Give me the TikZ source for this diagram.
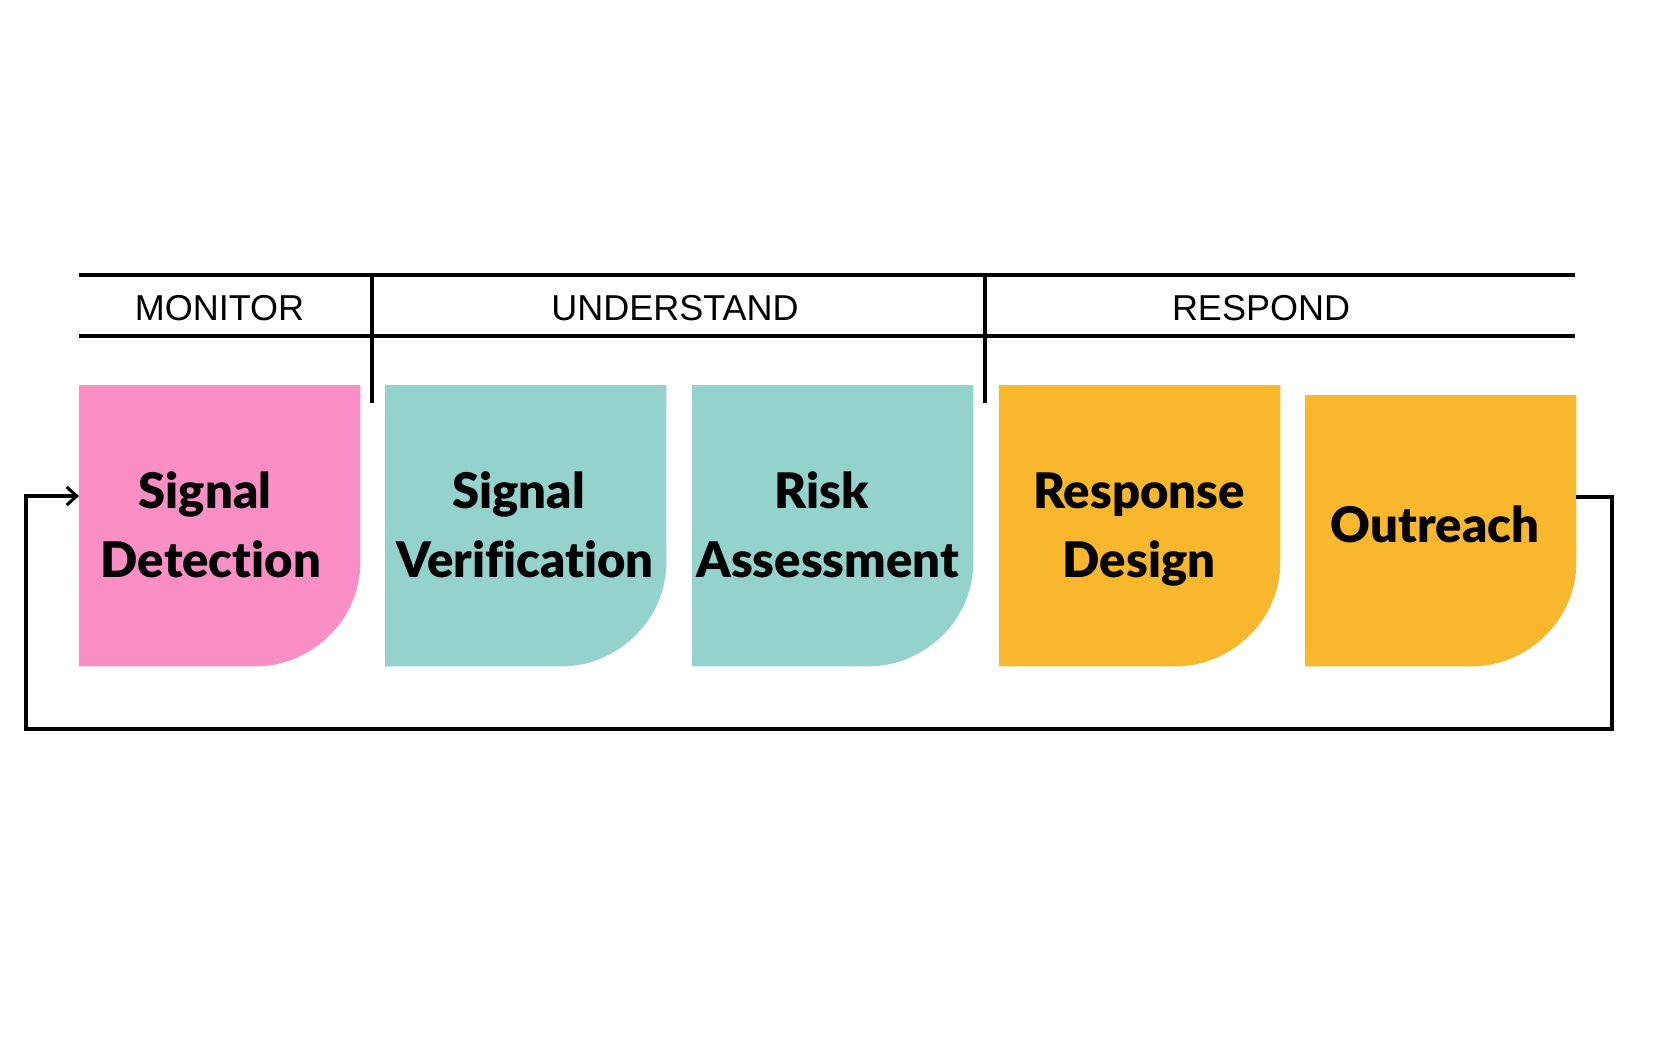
\documentclass[tikz,border=0pt]{standalone}
\usepackage{fontspec}
\setmainfont{Liberation Sans}
\newfontfamily\boxfont{Lato}[BoldFont={Lato Black},Ligatures=NoCommon]
\usetikzlibrary{arrows.meta,calc}
\definecolor{pinkc}{HTML}{F98FC4}
\definecolor{tealc}{HTML}{94D3CC}
\definecolor{orangec}{HTML}{F9B72E}
\newcommand\cardbox[5]{% name, x, y, size, colour
  \node[frame,minimum width=#4pt,minimum height=#4pt] (#1) at (#2,#3) {};
  \fill[#5] (#1.north west) -- (#1.north east) -- ($(#1.south east)+(0,-105)$)
    .. controls ($(#1.south east)+(0,-45)$) and ($(#1.south east)+(-50,0)$) ..
    ($(#1.south east)+(-105,0)$) -- (#1.south west) -- cycle;}
\begin{document}
\begin{tikzpicture}[x=1pt,y=-1pt,
  frame/.style={draw=none,inner sep=0pt,anchor=north west},
  rule/.style={line width=3.4pt},
  hdr/.style={font=\fontsize{36}{40}\selectfont,anchor=base,inner sep=0pt},
  lbl/.style={font=\boxfont\bfseries\fontsize{49}{56}\selectfont,anchor=base,inner sep=0pt},
  tip/.style={-{Straight Barb[length=10pt,width=18pt,line width=3pt]}}]
\useasboundingbox (0,0) rectangle (1680,1050);
% header
\coordinate (hl1) at (79,275); \coordinate (hr1) at (1575,275);
\coordinate (hl2) at (79,336); \coordinate (hr2) at (1575,336);
\draw[rule] (hl1) -- (hr1);
\draw[rule] (hl2) -- (hr2);
\draw[rule] (372,275) -- (372,403);
\draw[rule] (985,275) -- (985,403);
\node[hdr] (hmon) at (219.5,320) {MONITOR};
\node[hdr] (hund) at (675,320) {UNDERSTAND};
\node[hdr] (hres) at (1261,320) {RESPOND};
% cards
\cardbox{b1}{79}{385}{281}{pinkc}
\cardbox{b2}{385}{385}{281}{tealc}
\cardbox{b3}{692}{385}{281}{tealc}
\cardbox{b4}{999}{385}{281}{orangec}
\cardbox{b5}{1305}{395}{271}{orangec}
% labels
\node[lbl] (t1a) at (205,508) {Signal};
\node[lbl] (t1b) at (211,577) {Detection};
\node[lbl] (t2a) at (518.6,508) {Signal};
\node[lbl] (t2b) at (525,577) {Verification};
\node[lbl] (t3a) at (821.8,508) {Risk};
\node[lbl] (t3b) at (827.7,577) {Assessment};
\node[lbl] (t4a) at (1139,508) {Response};
\node[lbl] (t4b) at (1139,577) {Design};
\node[lbl] (t5a) at (1435,542) {Outreach};
% feedback loop
\coordinate (rb) at (1612,729);
\coordinate (lb) at (26,729);
\draw[rule,tip] ($(b5.north east)+(0,102)$) -| (rb) -- (lb) |- ($(b1.north west)+(0,111)$);
\end{tikzpicture}
\end{document}
